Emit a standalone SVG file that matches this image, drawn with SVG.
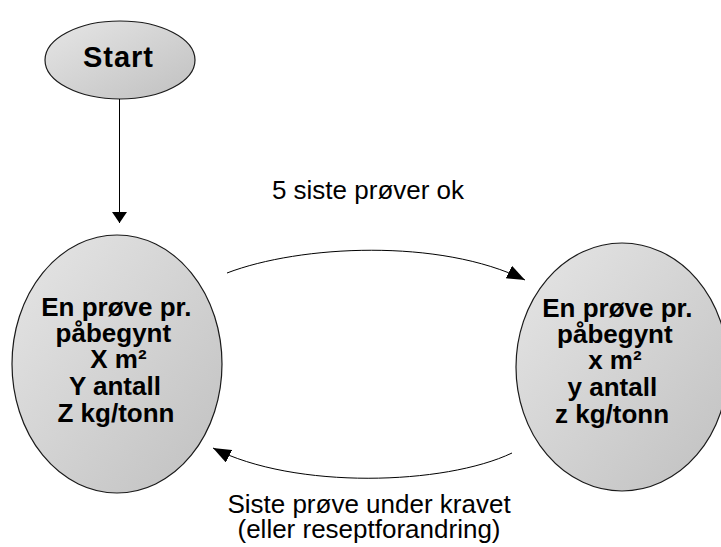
<svg xmlns="http://www.w3.org/2000/svg" width="721" height="547" viewBox="0 0 721 547">
  <defs>
    <linearGradient id="shade" x1="0" y1="0" x2="1" y2="1">
      <stop offset="0" stop-color="#e6e6e6"/>
      <stop offset="1" stop-color="#c0c0c0"/>
    </linearGradient>
    <marker id="headSmall" markerUnits="userSpaceOnUse" markerWidth="12" markerHeight="16" refX="11" refY="7.5" orient="auto">
      <path d="M0,0 L11,7.5 L0,15 z" fill="#000"/>
    </marker>
    <marker id="headLarge" markerUnits="userSpaceOnUse" markerWidth="19" markerHeight="15" refX="18" refY="7" orient="auto">
      <path d="M0,0 L18,7 L0,14 z" fill="#000"/>
    </marker>
    <style>
      .node { fill: url(#shade); stroke: #1a1a1a; stroke-width: 1.2; }
      .bold { font-family: "Liberation Sans", Arial, sans-serif; font-weight: bold; font-size: 26px; fill: #000; text-anchor: middle; }
      .title { font-size: 29px; letter-spacing: 1px; }
      .label { font-family: "Liberation Sans", Arial, sans-serif; font-size: 26px; fill: #000; text-anchor: middle; }
      .edge { fill: none; stroke: #000; stroke-width: 1; }
    </style>
  </defs>

  <g id="start">
    <ellipse class="node" cx="120" cy="60" rx="75" ry="39"/>
    <text class="bold title" x="118.5" y="67">Start</text>
  </g>

  <g id="state-full">
    <ellipse class="node" cx="117" cy="364" rx="105" ry="129"/>
    <text class="bold">
      <tspan x="120" y="316">En prøve pr.</tspan>
      <tspan x="117" y="342">påbegynt</tspan>
      <tspan x="122" y="368">X m²</tspan>
      <tspan x="118.5" y="395">Y antall</tspan>
      <tspan x="116" y="422">Z kg/tonn</tspan>
    </text>
  </g>

  <g id="state-reduced">
    <ellipse class="node" cx="622" cy="367" rx="106" ry="124"/>
    <text class="bold">
      <tspan x="621" y="317">En prøve pr.</tspan>
      <tspan x="618.5" y="343">påbegynt</tspan>
      <tspan x="618.5" y="369">x m²</tspan>
      <tspan x="616" y="396">y antall</tspan>
      <tspan x="612" y="423">z kg/tonn</tspan>
    </text>
  </g>

  <g id="connectors">
    <path class="edge" d="M119.5,99 L119.5,223" marker-end="url(#headSmall)"/>
    <path class="edge" d="M227,273 C300,245 440,238 525,280" marker-end="url(#headLarge)"/>
    <path class="edge" d="M512,453 C445,485 295,490 213,448" marker-end="url(#headLarge)"/>
    <text class="label" x="368" y="199">5 siste prøver ok</text>
    <text class="label" x="369" y="513">Siste prøve under kravet</text>
    <text class="label" x="369" y="538">(eller reseptforandring)</text>
  </g>
</svg>
